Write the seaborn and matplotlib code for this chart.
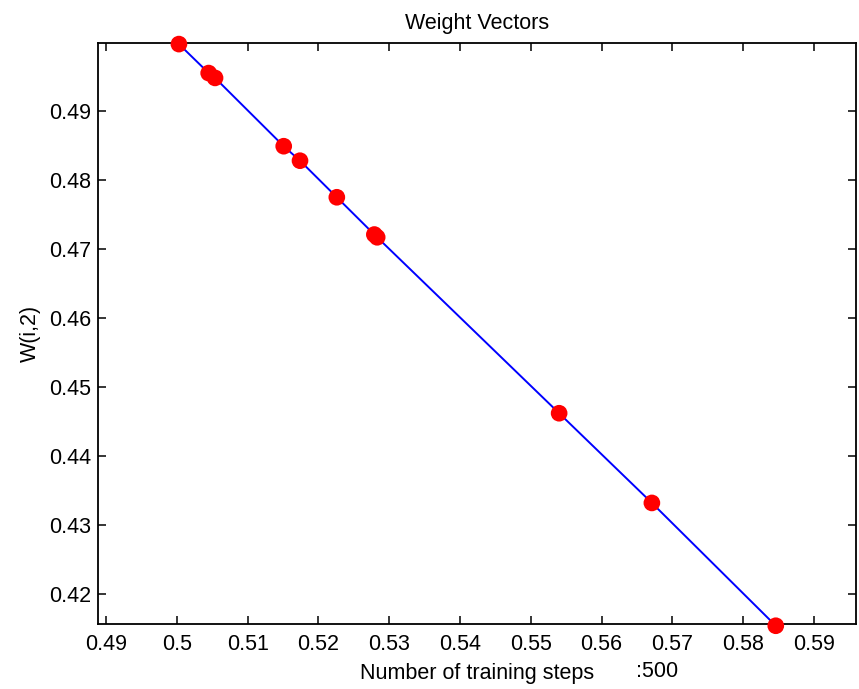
import matplotlib
matplotlib.use("Agg")
import matplotlib.pyplot as plt
import seaborn as sns
import pandas as pd

# weight vector positions
w1 = [0.5003, 0.5045, 0.5054, 0.5151, 0.5174, 0.5226, 0.5279, 0.5283, 0.5540, 0.5671, 0.5846]
w2 = [0.4997, 0.4955, 0.4948, 0.4849, 0.4828, 0.4775, 0.4721, 0.4717, 0.4462, 0.4332, 0.4154]
x_ticks = [0.49, 0.50, 0.51, 0.52, 0.53, 0.54, 0.55, 0.56, 0.57, 0.58, 0.59]
x_labels = ["0.49", "0.5", "0.51", "0.52", "0.53", "0.54", "0.55", "0.56", "0.57", "0.58", "0.59"]
y_ticks = [0.42, 0.43, 0.44, 0.45, 0.46, 0.47, 0.48, 0.49]

df = pd.DataFrame({"w1": w1, "w2": w2})

sns.set_style("ticks")
plt.rcParams["font.family"] = ["Liberation Sans", "DejaVu Sans"]
plt.rcParams["text.color"] = "black"
plt.rcParams["axes.labelcolor"] = "black"
fs = 15.5

fig = plt.figure(figsize=(8.59, 6.89), dpi=100)
ax = fig.add_axes([0.1141, 0.0943, 0.8824, 0.8433])

sns.lineplot(data=df, x="w1", y="w2", sort=False, color="#0000ff", linewidth=1.4, ax=ax)
sns.scatterplot(data=df, x="w1", y="w2", color="#ff0000", s=144, edgecolor="none", zorder=3,
                clip_on=False, ax=ax)

ax.set_xlim(0.48887, 0.59593)
ax.set_ylim(0.41565, 0.49986)
ax.set_xticks(x_ticks)
ax.set_xticklabels(x_labels)
ax.set_yticks(y_ticks)
ax.set_yticklabels([f"{v:.2f}" for v in y_ticks])

ax.tick_params(direction="in", top=True, right=True, length=6, width=1.1,
               labelsize=fs, colors="black")
ax.tick_params(axis="x", pad=7)
ax.tick_params(axis="y", pad=5)
for s in ax.spines.values():
    s.set_visible(True)
    s.set_linewidth(1.3)
    s.set_color("black")

ax.set_xlabel("Number of training steps", fontsize=fs, labelpad=6, color="black")
ax.set_ylabel("W(i,2)", fontsize=fs, labelpad=6, color="black")
ax.set_title("Weight Vectors", fontsize=fs, pad=10, color="black")
fig.text(0.7648, 0.0261, ":500", fontsize=fs, ha="center", va="center", color="black")

fig.savefig("out.png", dpi=100)
